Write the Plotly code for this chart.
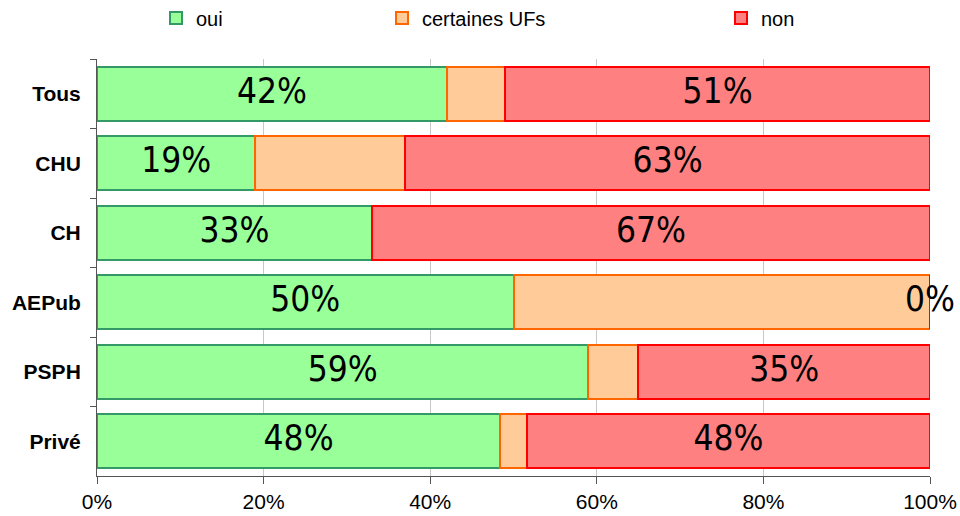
import plotly.graph_objects as go

# Share of establishments per category (percent)
categories = ["Tous", "CHU", "CH", "AEPub", "PSPH", "Privé"]
oui = [42, 19, 33, 50, 59, 48.4]
certaines = [7, 18, 0, 50, 6, 3.2]
non = [51, 63, 67, 0, 35, 48.4]

series_names = ["oui", "certaines UFs", "non"]
fills = ["#99FF99", "#FFCC99", "#FF8080"]
borders = ["#339966", "#FF6600", "#FF0000"]

label_font = dict(family="DejaVu Sans Condensed, Liberation Sans Narrow, sans-serif",
                  size=35, color="black")
text_font = dict(family="Liberation Sans, Arial, sans-serif", size=20, color="black")
tick_font = dict(family="Liberation Sans, Arial, sans-serif", size=21, color="black")

fig = go.Figure()

legend_ids = ["legend", "legend2", "legend3"]
for vals, name, fc, bc, lg in zip([oui, certaines, non], series_names, fills, borders, legend_ids):
    fig.add_trace(go.Bar(
        y=categories, x=vals, name=name, orientation="h",
        marker=dict(color=fc, line=dict(color=bc, width=2)),
        legend=lg, hoverinfo="x+y",
    ))

# Percentage labels centred on the "oui" and "non" segments
oui_centre = [o / 2 for o in oui]
non_centre = [o + c + n / 2 for o, c, n in zip(oui, certaines, non)]
fig.add_trace(go.Scatter(
    x=oui_centre, y=categories, mode="text",
    text=[f"{v:.0f}%" for v in oui], textposition="middle center",
    textfont=label_font, showlegend=False, cliponaxis=False, hoverinfo="skip",
))
fig.add_trace(go.Scatter(
    x=non_centre, y=categories, mode="text",
    text=[f"{v:.0f}%" for v in non], textposition="middle center",
    textfont=label_font, showlegend=False, cliponaxis=False, hoverinfo="skip",
))

legend_common = dict(orientation="h", xref="container", yref="container",
                     xanchor="left", yanchor="middle", font=text_font,
                     bgcolor="rgba(0,0,0,0)", borderwidth=0)

fig.update_layout(
    width=960, height=516,
    barmode="stack", bargap=0.23,
    plot_bgcolor="white", paper_bgcolor="white",
    margin=dict(l=97, r=30, t=59, b=40, autoexpand=False),
    font=text_font,
    legend=dict(x=156 / 960, y=1 - 18 / 516, **legend_common),
    legend2=dict(x=382 / 960, y=1 - 18 / 516, **legend_common),
    legend3=dict(x=721 / 960, y=1 - 18 / 516, **legend_common),
    xaxis=dict(
        range=[0, 100], tickvals=[0, 20, 40, 60, 80, 100],
        ticktext=["0%", "20%", "40%", "60%", "80%", "100%"],
        showgrid=True, gridcolor="#C8C8C8", gridwidth=1,
        showline=True, linecolor="#555555", linewidth=1,
        ticks="outside", ticklen=7, tickcolor="#555555",
        zeroline=False, tickfont=tick_font, automargin=False,
    ),
    yaxis=dict(
        categoryorder="array", categoryarray=categories,
        range=[5.5, -0.5], automargin=False,
        showline=True, linecolor="#555555", linewidth=1,
        ticks="outside", tickson="boundaries", ticklen=6, tickcolor="#555555",
        ticklabelstandoff=11, showgrid=False,
        tickfont=dict(family="Liberation Sans, Arial, sans-serif", size=21,
                      color="black", weight="bold"),
    ),
)

fig.write_html("out.html")
